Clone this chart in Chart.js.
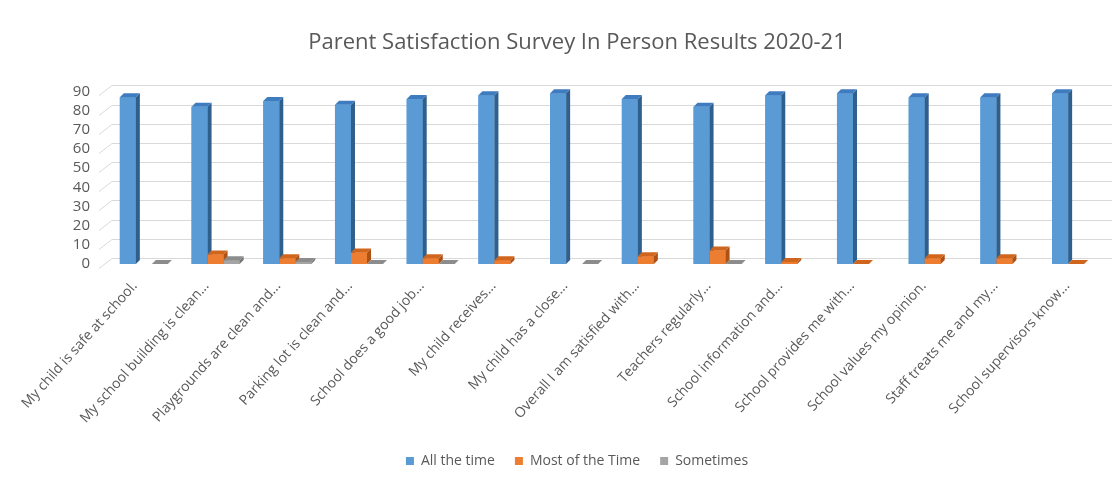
<!DOCTYPE html>
<html>
<head>
<meta charset="utf-8">
<title>Parent Satisfaction Survey</title>
<script src="https://cdn.jsdelivr.net/npm/chart.js@4.4.1/dist/chart.umd.min.js"></script>
<style>
  html, body { margin: 0; padding: 0; background: #fff; }
  #wrap { width: 1112px; height: 480px; }
</style>
</head>
<body>
<div id="wrap"><canvas id="survey" width="1112" height="480"></canvas></div>
<script>
const questions = [
  'My child is safe at school.',
  'My school building is clean...',
  'Playgrounds are clean and...',
  'Parking lot is clean and...',
  'School does a good job...',
  'My child receives...',
  'My child has a close...',
  'Overall I am satisfied with...',
  'Teachers regularly...',
  'School information and...',
  'School provides me with...',
  'School values my opinion.',
  'Staff treats me and my...',
  'School supervisors know...'
];

const allTheTime   = [87, 82, 85, 83, 86, 88, 89, 86, 82, 88, 89, 87, 87, 89];
const mostOfTime   = [null, 5, 3, 6, 3, 2, null, 4, 7, 1, 0, 3, 3, 0];
const sometimes    = [0, 2, 1, 0, 0, null, 0, null, 0, null, null, null, null, null];

const yTicks = [0, 10, 20, 30, 40, 50, 60, 70, 80, 90];

const textGrey = '#595959';
const fontFamily = '"Open Sans", "Noto Sans", sans-serif';

// face colours for the fake 3D look: [front, top, side]
const shades = [
  ['#5b9bd5', '#3f7cbf', '#2f5f8d'],
  ['#ed7d31', '#d0661d', '#ae5115'],
  ['#a5a5a5', '#8c8c8c', '#757575']
];
const depthX = 4, depthY = -4;

// back wall gridlines, shifted up/right, with a short slanted floor edge on the left
const wallGrid = {
  id: 'wallGrid',
  beforeDatasetsDraw(chart) {
    const { ctx, chartArea, scales } = chart;
    ctx.save();
    ctx.strokeStyle = '#d9d9d9';
    ctx.lineWidth = 1;
    yTicks.forEach(v => {
      const py = Math.round(scales.y.getPixelForValue(v)) + 0.5;
      ctx.beginPath();
      ctx.moveTo(chartArea.left - 9, py + 4);
      ctx.lineTo(chartArea.left + 4, py - 6);
      ctx.lineTo(chart.width, py - 6);
      ctx.stroke();
    });
    ctx.restore();
  }
};

// redraw bars category by category so each bar's side face sits under its right neighbour
const bars3d = {
  id: 'bars3d',
  afterDatasetsDraw(chart) {
    const { ctx } = chart;
    const sets = chart.data.datasets;
    ctx.save();
    for (let i = 0; i < questions.length; i++) {
      sets.forEach((ds, d) => {
        if (ds.data[i] == null) return;
        const el = chart.getDatasetMeta(d).data[i];
        const { x, y, base, width } = el.getProps(['x', 'y', 'base', 'width'], true);
        const l = x - width / 2, r = x + width / 2;
        el.draw(ctx);
        ctx.fillStyle = shades[d][2];
        ctx.beginPath();
        ctx.moveTo(r, y);
        ctx.lineTo(r + depthX, y + depthY);
        ctx.lineTo(r + depthX, base + depthY);
        ctx.lineTo(r, base);
        ctx.closePath();
        ctx.fill();
        ctx.fillStyle = shades[d][1];
        ctx.beginPath();
        ctx.moveTo(l, y);
        ctx.lineTo(l + depthX, y + depthY);
        ctx.lineTo(r + depthX, y + depthY);
        ctx.lineTo(r, y);
        ctx.closePath();
        ctx.fill();
      });
    }
    ctx.restore();
  }
};

new Chart(document.getElementById('survey'), {
  type: 'bar',
  data: {
    labels: questions,
    datasets: [
      { label: 'All the time', data: allTheTime, backgroundColor: shades[0][0] },
      { label: 'Most of the Time', data: mostOfTime, backgroundColor: shades[1][0] },
      { label: 'Sometimes', data: sometimes, backgroundColor: shades[2][0] }
    ]
  },
  options: {
    responsive: false,
    animation: false,
    categoryPercentage: 0.67,
    barPercentage: 1.0,
    layout: { padding: { left: 42, right: 0, top: 0, bottom: 2 } },
    plugins: {
      title: {
        display: true,
        text: 'Parent Satisfaction Survey In Person Results 2020-21',
        color: textGrey,
        font: { family: fontFamily, size: 22, weight: 'normal' },
        padding: { top: 30, bottom: 35 }
      },
      legend: {
        position: 'bottom',
        sort: (a, b) => a.datasetIndex - b.datasetIndex,
        labels: {
          color: textGrey,
          font: { family: fontFamily, size: 14 },
          boxWidth: 8,
          boxHeight: 8,
          padding: 20
        }
      },
      tooltip: { enabled: false }
    },
    scales: {
      x: {
        grid: { display: false, drawTicks: false },
        border: { display: false },
        ticks: {
          color: textGrey,
          font: { family: fontFamily, size: 14 },
          minRotation: 48,
          maxRotation: 48,
          autoSkip: false,
          labelOffset: -9,
          padding: 14
        },
        afterFit(scale) { scale.height = 170; }
      },
      y: {
        min: 0,
        max: 90,
        grid: { display: false, drawTicks: false },
        border: { display: false },
        ticks: {
          stepSize: 10,
          autoSkip: false,
          color: textGrey,
          font: { family: fontFamily, size: 15 },
          padding: 18
        },
        afterFit(scale) { scale.width = 66; }
      }
    }
  },
  plugins: [wallGrid, bars3d]
});
</script>
</body>
</html>
